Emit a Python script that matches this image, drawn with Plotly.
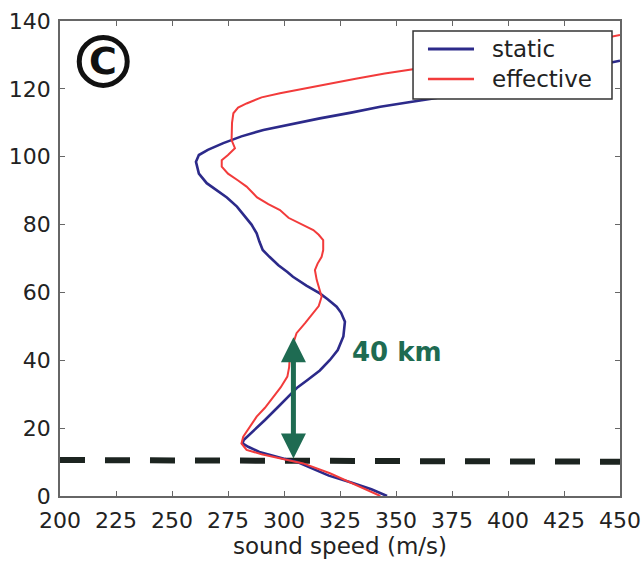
import plotly.graph_objects as go

# Vertical profiles of sound speed: altitude (km) vs speed (m/s)
static_alt = [0, 2, 4, 6, 8, 10, 11, 12, 13, 14.5, 15.5, 16.5, 18, 20, 22.4, 26,
              29.3, 32, 34.2, 37, 40.1, 43, 47, 51.4, 54, 55.8, 58, 59.7, 62, 64.6,
              66, 68, 70.5, 72.5, 75, 77.4, 80, 82, 85.3, 88, 90, 92.2, 95, 98.5,
              100.5, 102, 104, 106, 107.9, 109.5, 111.3, 113, 114.7, 116, 117.3,
              119, 121.5, 125, 128.3]
static_speed = [346, 339, 330, 320, 313, 306, 300, 294, 289, 284, 281.5, 282, 284.5,
                287.5, 291.5, 297, 302, 306, 310.5, 316, 320.5, 324, 326.5, 327.2,
                325.5, 323.5, 319.5, 316, 310, 304, 301.5, 297.5, 293.5, 290.5, 289,
                287.8, 285.5, 283, 279, 274.5, 270, 265.5, 262, 260.7, 262, 266,
                272.9, 281, 290.8, 302, 316, 330, 343, 355, 368, 380, 400, 425, 450]

effective_alt = [0, 3.2, 6.7, 9.6, 11.1, 12.3, 13.6, 15.5, 17.5, 20, 23.4, 26, 29.3,
                 32, 35.2, 38, 42.1, 45, 48, 51, 53.8, 56, 58.7, 60.7, 63.7, 66.6,
                 68.5, 70.5, 72.5, 75.4, 77, 78.4, 80, 82, 84.3, 86, 88, 91.2, 93, 95,
                 97.1, 99, 100.5, 102.5, 104.9, 108, 110, 112.8, 114.5, 115.7, 117.5,
                 118.7, 120, 121.6, 123, 124.5, 125.8, 127.5, 129.5, 131.5, 133.5,
                 135.9]
effective_speed = [343, 332.5, 320.5, 308.6, 298.2, 290, 283.3, 281, 281.8, 284.5,
                   287.8, 291.5, 295.2, 298.5, 301.5, 302.3, 302.7, 304, 305.6, 309.5,
                   313, 315.5, 316.8, 316, 314.6, 313.8, 315, 316.8, 317.5, 317.5,
                   315.5, 313.1, 308, 302, 298.2, 293, 288, 283.3, 279.5, 275, 272.2,
                   272.2, 275, 278.1, 276.6, 276.6, 276.8, 277.4, 279.5, 283.3, 290,
                   298.2, 308, 320.5, 332, 345, 357.7, 375, 395, 415, 432, 450]

# Reference level (dashed) and the marked layer
ref_speed = [200, 450]
ref_alt = [10.6, 10.1]
arrow_speed = 304.2
arrow_bottom = 10.6
arrow_top = 46.8

x_ticks = [200, 225, 250, 275, 300, 325, 350, 375, 400, 425, 450]
y_ticks = [0, 20, 40, 60, 80, 100, 120, 140]

series_names = ["static", "effective"]
series_colors = ["#2c2a8a", "#f23b3b"]
series_widths = [2.6, 2.0]

FONT = "DejaVu Sans"
GREEN = "#1e6b52"
TEXT = "#222222"

fig = go.Figure()

fig.add_trace(go.Scatter(
    x=ref_speed, y=ref_alt, mode="lines", showlegend=False, hoverinfo="skip",
    line=dict(color="#1c2420", width=6, dash="25px,20px"),
))
for name, xs, ys, color, width in zip(series_names,
                                      [static_speed, effective_speed],
                                      [static_alt, effective_alt],
                                      series_colors, series_widths):
    fig.add_trace(go.Scatter(x=xs, y=ys, mode="lines", name=name, showlegend=False,
                             line=dict(color=color, width=width)))

# Legend box drawn on top of the curves
fig.add_shape(type="rect", xref="paper", yref="paper",
              x0=0.6304, x1=0.9857, y0=0.8358, y1=0.9789,
              line=dict(color="#333333", width=1.5), fillcolor="white", layer="above")
legend_rows = [0.9411, 0.8779]
for name, color, width, yr in zip(series_names, series_colors, series_widths, legend_rows):
    fig.add_shape(type="line", xref="paper", yref="paper",
                  x0=0.6571, x1=0.7393, y0=yr, y1=yr,
                  line=dict(color=color, width=width + 0.6), layer="above")
    fig.add_annotation(x=0.7679, y=yr, xref="paper", yref="paper", text=name,
                       showarrow=False, xanchor="left", yanchor="middle",
                       font=dict(family=FONT, size=23, color=TEXT))

# Double-headed arrow
fig.add_annotation(
    x=arrow_speed, y=arrow_top, ax=arrow_speed, ay=arrow_bottom,
    xref="x", yref="y", axref="x", ayref="y", text="",
    showarrow=True, arrowhead=2, startarrowhead=2, arrowside="end+start",
    arrowwidth=5, arrowsize=1.0, startarrowsize=1.0, arrowcolor=GREEN,
    standoff=0, startstandoff=0,
)
fig.add_annotation(
    x=329.5, y=42.3, xref="x", yref="y", text="40 km", showarrow=False,
    xanchor="left", yanchor="middle",
    font=dict(family=FONT, size=26, color=GREEN, weight="bold"),
)

# Panel badge
fig.add_shape(
    type="circle", xref="x", yref="y", xsizemode="pixel", ysizemode="pixel",
    xanchor=219.3, yanchor=128.1, x0=-24, x1=24, y0=-24, y1=24,
    line=dict(color="#111111", width=5), fillcolor="rgba(0,0,0,0)",
)
fig.add_annotation(
    x=219.3, y=128.1, xref="x", yref="y", text="C", showarrow=False,
    xanchor="center", yanchor="middle",
    font=dict(family=FONT, size=38, color="#111111", weight="bold"),
)

axis_common = dict(
    showline=True, linecolor="#666666", linewidth=1.5, mirror="ticks",
    ticks="inside", ticklen=5, tickcolor="#666666", tickwidth=1.2,
    showgrid=False, zeroline=False, automargin=False,
    tickfont=dict(family=FONT, size=22, color=TEXT),
)

fig.update_xaxes(
    range=[200, 450], tickvals=x_ticks, ticktext=[str(v) for v in x_ticks],
    title=dict(text="sound speed (m/s)", font=dict(family=FONT, size=23, color=TEXT),
               standoff=0),
    ticklabelstandoff=4,
    **axis_common,
)
fig.update_yaxes(
    range=[0, 140], tickvals=y_ticks, ticktext=[str(v) for v in y_ticks],
    ticklabelstandoff=3,
    **axis_common,
)

fig.update_layout(
    width=643, height=561,
    margin=dict(l=60, r=23, t=21, b=65),
    paper_bgcolor="white", plot_bgcolor="white",
    font=dict(family=FONT, color=TEXT),
    showlegend=False,
)

fig.write_html("out.html")
